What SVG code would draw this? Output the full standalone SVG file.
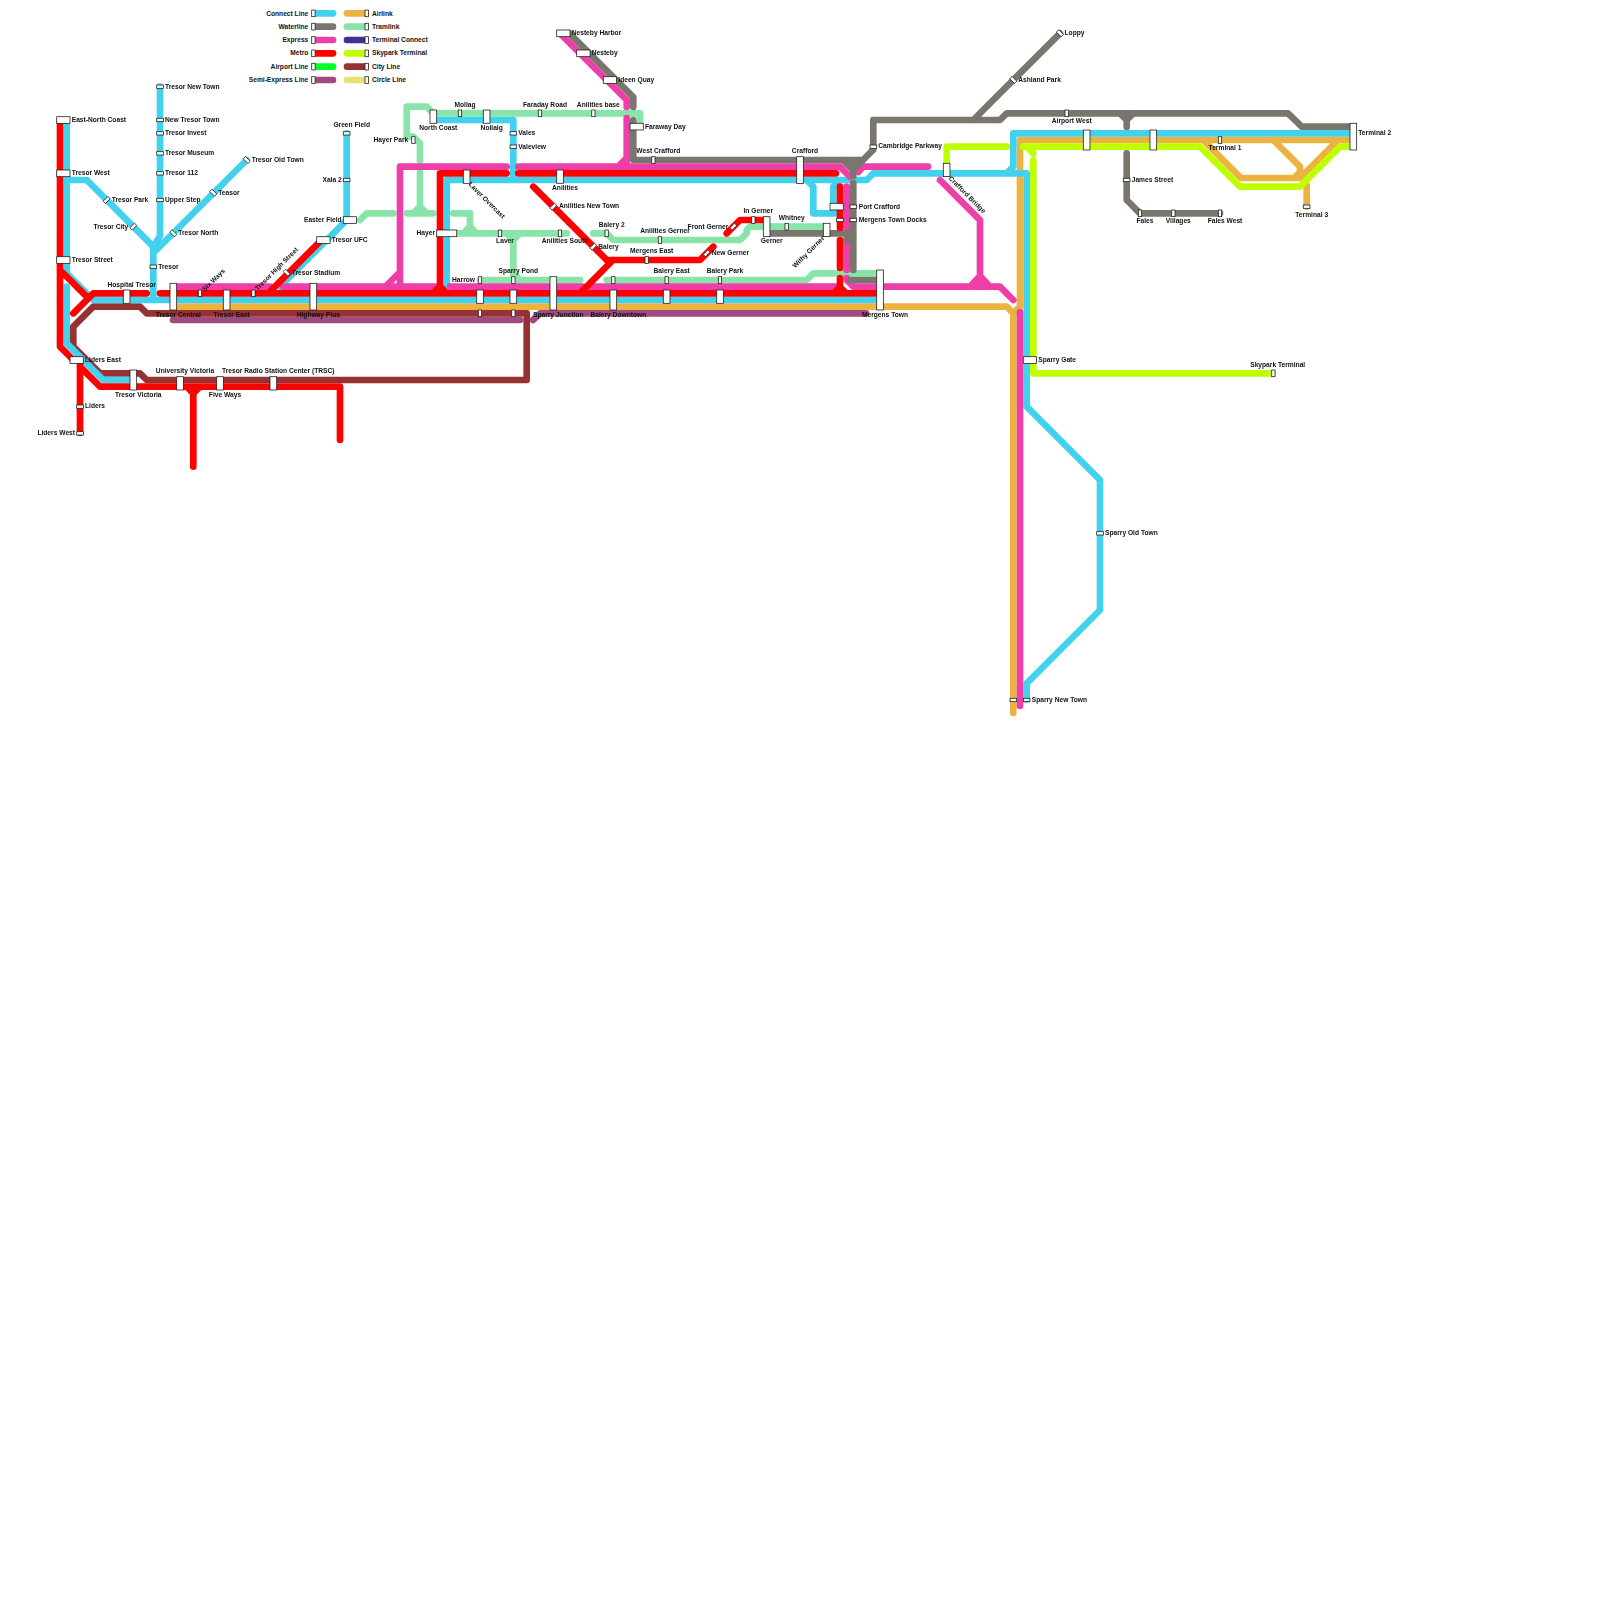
<svg xmlns="http://www.w3.org/2000/svg" width="1600" height="1600" viewBox="0 0 1600 1600">
<style>
text{font:bold 6.67px "Liberation Sans",Arial,sans-serif;fill:#111;dominant-baseline:central}
.e{text-anchor:end}.m{text-anchor:middle}
path{fill:none;stroke-width:6.67;stroke-linecap:round;stroke-linejoin:round}
rect{fill:#fff;stroke:#222;stroke-width:.8}
#stations,#legend{opacity:.999}
.cy{stroke:#43d2ee}.gr{stroke:#7a766e}.mg{stroke:#ee3ea8}.rd{stroke:#f00}.ag{stroke:#00ff2a}.pu{stroke:#a14a80}
.or{stroke:#edb340}.mi{stroke:#88e4a8}.nv{stroke:#3b3291}.li{stroke:#bfff00}.br{stroke:#963232}.ye{stroke:#e5e174}
</style>
<rect width="1600" height="1600" style="fill:#fff;stroke:none"/>
<g id="legend">
<path class="cy" d="M315 13.3H333"/><path class="gr" d="M315 26.7H333"/><path class="mg" d="M315 40H333"/><path class="rd" d="M315 53.3H333"/><path class="ag" d="M315 66.7H333"/><path class="pu" d="M315 80H333"/>
<path class="or" d="M347 13.3H365"/><path class="mi" d="M347 26.7H365"/><path class="nv" d="M347 40H365"/><path class="li" d="M347 53.3H365"/><path class="br" d="M347 66.7H365"/><path class="ye" d="M347 80H365"/>
<rect x="311.7" y="10" width="3.4" height="6.67"/><rect x="311.7" y="23.3" width="3.4" height="6.67"/><rect x="311.7" y="36.7" width="3.4" height="6.67"/><rect x="311.7" y="50" width="3.4" height="6.67"/><rect x="311.7" y="63.3" width="3.4" height="6.67"/><rect x="311.7" y="76.7" width="3.4" height="6.67"/>
<rect x="365" y="10" width="3.4" height="6.67"/><rect x="365" y="23.3" width="3.4" height="6.67"/><rect x="365" y="36.7" width="3.4" height="6.67"/><rect x="365" y="50" width="3.4" height="6.67"/><rect x="365" y="63.3" width="3.4" height="6.67"/><rect x="365" y="76.7" width="3.4" height="6.67"/>
<text class="e" x="308.3" y="13">Connect Line</text><text class="e" x="308.3" y="26">Waterline</text><text class="e" x="308.3" y="39.3">Express</text><text class="e" x="308.3" y="52.7">Metro</text><text class="e" x="308.3" y="66">Airport Line</text><text class="e" x="308.3" y="79.3">Semi-Express Line</text>
<text x="372" y="13">Airlink</text><text x="372" y="26">Tramlink</text><text x="372" y="39.3">Terminal Connect</text><text x="372" y="52.7">Skypark Terminal</text><text x="372" y="66">City Line</text><text x="372" y="79.3">Circle Line</text>
</g>
<g id="connectors">
<path class="mi" d="M420 161V143.3L413.3 136.7H406.7V106.7H426.7L433.3 113.3H640V126.7M420 172V213.3M407 213.3H433M413.3 213.3L420 206.7L426.7 213.3M360 220L366.7 213.3H393.3M453.3 213.3H470V226.7L476.7 233.3M456 233.3H566.7M463.3 233.3L470 226.7M513.3 233.3V280M506.7 233.3L513.3 240L520 233.3M480 280H580M513.3 273.3L520 280M606.7 280H806.7L813.3 273.3H880M593.3 233.3H606.7L613.3 240H740L746.7 233.3V230L750 226.7H826.7"/>
<path class="pu" d="M173 320H520M533 320L540 313.3H866"/>
<path class="or" d="M173 306.7H1006.7L1013.3 313.3V713M1013.3 313.3L1020 306.7V178M1020 170V140H1353M1203.3 140L1241 178H1300L1338 140M1273.3 140L1300 166.7V172L1294 178M1306.7 185V206.7"/>
<path class="br" d="M146.7 313.3H526.7V380H146.7L140 373.3H100L73.3 346.7V326.7L93.3 306.7H140Z"/>
<path class="li" d="M1023 146.7H1200L1240 186.7H1300L1340 146.7H1353M1033.3 160V373.3H1273M1033.3 153.3L1026.7 146.7M946.7 170V146.7H1007"/>
<path class="cy" d="M66.7 120V273.3L93.3 300H880M66.7 286.7V343.3L103.3 380H133M66.7 180H86.7L153.3 246.7V300M160 86.7V236L153.3 246.7M246.7 160L153.3 253M346.7 133.3V220L280 286.7M446.7 286.7V180H866.7L873.3 173.3H1026.7V406.7L1100 480V610L1026.7 683.3V700M433.3 120H513.3V180M1006.7 173.3L1013.3 166.7V133.3H1353M806.7 180L813.3 186.7V213.3H836M840 180L833.3 186.7V206"/>
<path class="mg" d="M173 286.7H270M283.3 286.7H436M450 286.7H583M590 286.7H836M386 286L400 272M400 286.7V166.7H506.7M518.3 166.7H840L850 176.7M846.7 186.7V270M846.7 278V280L853.3 286.7H1000L1013.3 300M560 33.3L626.7 100V107M626.7 118V166M626.7 158L618 166.7M858.3 172L863 166.7H928M940 180L978.3 218.3L980 220V286M970 286.7L980 276L990 286.7M1020 312V706"/>
<path class="gr" d="M569.4 33.3L633.3 97.2V107M633.3 120V160H863L873.3 149.7V120H1000L1006.7 113.3H1288L1301.7 126.7H1350M973.3 120L1060 33.3M1120 113.3L1126.7 120L1133.3 113.3M1126.7 113.3V127M1126.7 153.3V200L1140 213.3H1220M843 160L853.3 170L863 160M853.3 160V176M853.3 183V270M766.7 233.3H853.3M846.7 240L853.3 233.3M850 280H880"/>
<path class="rd" d="M60 120V346.7L73.3 360H80V433M80 366.7L100 386.7H340V440M186.7 386.7L193.3 393.3L200 386.7M193.3 386.7V466.7M60 270L86.7 296.7M73.3 313.3L93.3 293.3H146.7M160 293.3H880M321.5 240L268.2 293.3M440 173.3V293.3M434 293L440 286L446 293M440 173.3H506.7M518.3 173.3H836M533.3 186.7L606.7 260M606.7 260H700L713.3 246.7M613 260L580 293.3M726.7 233.3L740 220H766.7M840 186.7V228M840 240V268M840 278V293.3M834 293L840 287L846 293"/>
</g>
<g id="stations">
<g id="s1"><rect x="56.7" y="116.7" width="13.3" height="6.67"/><text x="71.7" y="119.5">East-North Coast</text></g>
<g id="s2"><rect x="56.7" y="170" width="13.3" height="6.67"/><text x="71.7" y="172.7">Tresor West</text></g>
<g id="s3"><rect x="56.7" y="256.7" width="13.3" height="6.67"/><text x="71.7" y="259.5">Tresor Street</text></g>
<g id="s4"><rect x="156.7" y="85" width="6.67" height="3.33"/><text x="165" y="86">Tresor New Town</text></g>
<g id="s5"><rect x="156.7" y="118.3" width="6.67" height="3.33"/><text x="165" y="119.5">New Tresor Town</text></g>
<g id="s6"><rect x="156.7" y="131.7" width="6.67" height="3.33"/><text x="165" y="132.7">Tresor Invest</text></g>
<g id="s7"><rect x="156.7" y="151.7" width="6.67" height="3.33"/><text x="165" y="152.7">Tresor Museum</text></g>
<g id="s8"><rect x="156.7" y="171.7" width="6.67" height="3.33"/><text x="165" y="172.7">Tresor 112</text></g>
<g id="s9"><rect x="156.7" y="198.3" width="6.67" height="3.33"/><text x="165" y="199.5">Upper Step</text></g>
<g id="s10"><rect x="150" y="265" width="6.67" height="3.33"/><text x="158.3" y="266">Tresor</text></g>
<g id="s11"><rect x="-3.33" y="-1.67" width="6.67" height="3.33" transform="translate(246.7 160) rotate(45)"/><text x="251.7" y="159.3">Tresor Old Town</text></g>
<g id="s12"><rect x="-3.33" y="-1.67" width="6.67" height="3.33" transform="translate(213.3 192.7) rotate(45)"/><text x="218.3" y="192.7">Teasor</text></g>
<g id="s13"><rect x="-3.33" y="-1.67" width="6.67" height="3.33" transform="translate(173.3 233.3) rotate(45)"/><text x="178.3" y="232.7">Tresor North</text></g>
<g id="s14"><rect x="-3.33" y="-1.67" width="6.67" height="3.33" transform="translate(106.7 200) rotate(-45)"/><text x="111.7" y="199.5">Tresor Park</text></g>
<g id="s15"><rect x="-3.33" y="-1.67" width="6.67" height="3.33" transform="translate(133.3 226.7) rotate(-45)"/><text class="e" x="128.3" y="226">Tresor City</text></g>
<g id="s16"><rect x="-3.33" y="-1.67" width="6.67" height="3.33" transform="translate(286.7 272.7) rotate(45)"/><text x="291.7" y="272.7">Tresor Stadium</text></g>
<g id="s17"><rect x="123.3" y="290" width="6.67" height="13.3"/><text class="m" x="131.7" y="284">Hospital Tresor</text></g>
<g id="s18"><rect x="170" y="283.3" width="6.67" height="26.7"/><text class="m" x="178.3" y="314">Tresor Central</text></g>
<g id="s19"><rect x="198.3" y="290" width="3.33" height="6.67"/><text transform="translate(203 290) rotate(-45)" x="0" y="0">Six Ways</text></g>
<g id="s20"><rect x="223.3" y="290" width="6.67" height="20"/><text class="m" x="231.7" y="314">Tresor East</text></g>
<g id="s21"><rect x="251.7" y="290" width="3.33" height="6.67"/><text transform="translate(256 289) rotate(-45)" x="0" y="0">Tresor High Street</text></g>
<g id="s22"><rect x="310" y="283.3" width="6.67" height="26.7"/><text class="m" x="318.3" y="314">Highway Plus</text></g>
<g id="s23"><rect x="70" y="356.7" width="13.3" height="6.67"/><text x="85" y="359.3">Liders East</text></g>
<g id="s24"><rect x="76.7" y="405" width="6.67" height="3.33"/><text x="85" y="405.7">Liders</text></g>
<g id="s25"><rect x="76.7" y="431.7" width="6.67" height="3.33"/><text class="e" x="75" y="432.7">Liders West</text></g>
<g id="s26"><rect x="130" y="370" width="6.67" height="20"/><text class="m" x="138.3" y="394">Tresor Victoria</text></g>
<g id="s27"><rect x="176.7" y="376.7" width="6.67" height="13.3"/><text class="m" x="185" y="370.7">University Victoria</text></g>
<g id="s28"><rect x="216.7" y="376.7" width="6.67" height="13.3"/><text class="m" x="225" y="394">Five Ways</text></g>
<g id="s29"><rect x="270" y="376.7" width="6.67" height="13.3"/><text class="m" x="278.3" y="370.7">Tresor Radio Station Center (TRSC)</text></g>
<g id="s30"><rect x="316.7" y="236.7" width="13.3" height="6.67"/><text x="331.7" y="239.3">Tresor UFC</text></g>
<g id="s31"><rect x="343.3" y="216.7" width="13.3" height="6.67"/><text class="e" x="341.7" y="219.3">Easter Field</text></g>
<g id="s32"><rect x="343.3" y="131.7" width="6.67" height="3.33"/><text class="m" x="351.7" y="124">Green Field</text></g>
<g id="s33"><rect x="343.3" y="178.3" width="6.67" height="3.33"/><text class="e" x="341.7" y="179.3">Xala 2</text></g>
<g id="s34"><rect x="411.7" y="136.7" width="3.33" height="6.67"/><text class="e" x="408.3" y="139.3">Hayer Park</text></g>
<g id="s35"><rect x="430" y="110" width="6.67" height="13.3"/><text class="m" x="438.3" y="127.3">North Coast</text></g>
<g id="s36"><rect x="458.3" y="110" width="3.33" height="6.67"/><text class="m" x="465" y="104">Mollag</text></g>
<g id="s37"><rect x="483.3" y="110" width="6.67" height="13.3"/><text class="m" x="491.7" y="127.3">Nollaig</text></g>
<g id="s38"><rect x="538.3" y="110" width="3.33" height="6.67"/><text class="m" x="545" y="104">Faraday Road</text></g>
<g id="s39"><rect x="591.7" y="110" width="3.33" height="6.67"/><text class="m" x="598.3" y="104">Anilities base</text></g>
<g id="s40"><rect x="510" y="131.7" width="6.67" height="3.33"/><text x="518.3" y="132.7">Vales</text></g>
<g id="s41"><rect x="510" y="145" width="6.67" height="3.33"/><text x="518.3" y="146">Valeview</text></g>
<g id="s42"><rect x="630" y="123.3" width="13.3" height="6.67"/><text x="645" y="126">Faraway Day</text></g>
<g id="s43"><rect x="651.7" y="156.7" width="3.33" height="6.67"/><text class="m" x="658.3" y="150.7">West Crafford</text></g>
<g id="s44"><rect x="463.3" y="170" width="6.67" height="13.3"/><text transform="translate(470 183) rotate(45)" x="0" y="0">Laver Overcast</text></g>
<g id="s45"><rect x="556.7" y="170" width="6.67" height="13.3"/><text class="m" x="565" y="187.3">Anilities</text></g>
<g id="s46"><rect x="-3.33" y="-1.67" width="6.67" height="3.33" transform="translate(553.3 206.7) rotate(-45)"/><text x="559" y="205.7">Anilities New Town</text></g>
<g id="s47"><rect x="436.7" y="230" width="20" height="6.67"/><text class="e" x="435" y="232.3">Hayer</text></g>
<g id="s48"><rect x="498.3" y="230" width="3.33" height="6.67"/><text class="m" x="505" y="240.7">Laver</text></g>
<g id="s49"><rect x="558.3" y="230" width="3.33" height="6.67"/><text class="m" x="565" y="240.7">Anilities South</text></g>
<g id="s50"><rect x="605" y="230" width="3.33" height="6.67"/><text class="m" x="611.7" y="224.3">Balery 2</text></g>
<g id="s51"><rect x="658.3" y="236.7" width="3.33" height="6.67"/><text class="m" x="665" y="230.7">Anilities Gerner</text></g>
<g id="s52"><rect x="-3.33" y="-1.67" width="6.67" height="3.33" transform="translate(593.3 246.7) rotate(-45)"/><text x="598.3" y="246">Balery</text></g>
<g id="s53"><rect x="645" y="256.7" width="3.33" height="6.67"/><text class="m" x="651.7" y="250.7">Mergens East</text></g>
<g id="s54"><rect x="478.3" y="276.7" width="3.33" height="6.67"/><rect x="476.7" y="290" width="6.67" height="13.3"/><rect x="478.3" y="310" width="3.33" height="6.67"/><text class="e" x="475" y="279.3">Harrow</text></g>
<g id="s55"><rect x="511.7" y="276.7" width="3.33" height="6.67"/><rect x="510" y="290" width="6.67" height="13.3"/><rect x="511.7" y="310" width="3.33" height="6.67"/><text class="m" x="518.3" y="270.7">Sparry Pond</text></g>
<g id="s56"><rect x="550" y="276.7" width="6.67" height="33.3"/><text class="m" x="558.3" y="314">Sparry Junction</text></g>
<g id="s57"><rect x="611.7" y="276.7" width="3.33" height="6.67"/><rect x="610" y="290" width="6.67" height="20"/><text class="m" x="618.3" y="314">Balery Downtown</text></g>
<g id="s58"><rect x="665" y="276.7" width="3.33" height="6.67"/><rect x="663.3" y="290" width="6.67" height="13.3"/><text class="m" x="671.7" y="270.7">Balery East</text></g>
<g id="s59"><rect x="718.3" y="276.7" width="3.33" height="6.67"/><rect x="716.7" y="290" width="6.67" height="13.3"/><text class="m" x="725" y="270.7">Balery Park</text></g>
<g id="s60"><rect x="796.7" y="156.7" width="6.67" height="26.7"/><text class="m" x="805" y="150.7">Crafford</text></g>
<g id="s61"><rect x="-3.33" y="-1.67" width="6.67" height="3.33" transform="translate(733.3 226.7) rotate(-45)"/><text class="e" x="728.3" y="226">Front Gerner</text></g>
<g id="s62"><rect x="-3.33" y="-1.67" width="6.67" height="3.33" transform="translate(706.7 253.3) rotate(-45)"/><text x="711.7" y="252.3">New Gerner</text></g>
<g id="s63"><rect x="751.7" y="216.7" width="3.33" height="6.67"/><text class="m" x="758.3" y="210.7">In Gerner</text></g>
<g id="s64"><rect x="763.3" y="216.7" width="6.67" height="20"/><text class="m" x="771.7" y="240.7">Gerner</text></g>
<g id="s65"><rect x="785" y="223.3" width="3.33" height="6.67"/><text class="m" x="791.7" y="217.3">Whitney</text></g>
<g id="s66"><rect x="823.3" y="223.3" width="6.67" height="13.3"/><text class="e" transform="translate(823 237) rotate(-45)" x="0" y="0">Withy Gerner</text></g>
<g id="s67"><rect x="830" y="203.3" width="13.3" height="6.67"/><rect x="850" y="205" width="6.67" height="3.33"/><text x="858.7" y="206">Port Crafford</text></g>
<g id="s68"><rect x="836.7" y="218.3" width="6.67" height="3.33"/><rect x="850" y="218.3" width="6.67" height="3.33"/><text x="858.7" y="219.3">Mergens Town Docks</text></g>
<g id="s69"><rect x="870" y="145" width="6.67" height="3.33"/><text x="878.3" y="145.7">Cambridge Parkway</text></g>
<g id="s70"><rect x="876.7" y="270" width="6.67" height="40"/><text class="m" x="885" y="314">Mergens Town</text></g>
<g id="s71"><rect x="943.3" y="163.3" width="6.67" height="13.3"/><text transform="translate(950 177) rotate(45)" x="0" y="0">Crafford Bridge</text></g>
<g id="s72"><rect x="1065" y="110" width="3.33" height="6.67"/><text class="m" x="1071.7" y="120.7">Airport West</text></g>
<g id="s73"><rect x="1083.3" y="130" width="6.67" height="20"/></g>
<g id="s74"><rect x="1150" y="130" width="6.67" height="20"/></g>
<g id="s75"><rect x="1218.3" y="136.7" width="3.33" height="6.67"/><text class="m" x="1225" y="147.3">Terminal 1</text></g>
<g id="s76"><rect x="1350" y="123.3" width="6.67" height="26.7"/><text x="1358.3" y="132.7">Terminal 2</text></g>
<g id="s77"><rect x="1303.3" y="205" width="6.67" height="3.33"/><text class="m" x="1311.7" y="214">Terminal 3</text></g>
<g id="s78"><rect x="1123.3" y="178.3" width="6.67" height="3.33"/><text x="1131.7" y="179.3">James Street</text></g>
<g id="s79"><rect x="1138.3" y="210" width="3.33" height="6.67"/><text class="m" x="1145" y="220.7">Fales</text></g>
<g id="s80"><rect x="1171.7" y="210" width="3.33" height="6.67"/><text class="m" x="1178.3" y="220.7">Villages</text></g>
<g id="s81"><rect x="1218.3" y="210" width="3.33" height="6.67"/><text class="m" x="1225" y="220.7">Fales West</text></g>
<g id="s82"><rect x="-3.33" y="-1.67" width="6.67" height="3.33" transform="translate(1060 33.3) rotate(45)"/><text x="1064.5" y="32.7">Loppy</text></g>
<g id="s83"><rect x="-3.33" y="-1.67" width="6.67" height="3.33" transform="translate(1013.3 80) rotate(45)"/><text x="1018.3" y="79.3">Ashland Park</text></g>
<g id="s84"><rect x="1023.3" y="356.7" width="13.3" height="6.67"/><text x="1038.3" y="359.3">Sparry Gate</text></g>
<g id="s85"><rect x="1271.7" y="370" width="3.33" height="6.67"/><text class="m" x="1277.7" y="364.3">Skypark Terminal</text></g>
<g id="s86"><rect x="1096.7" y="531.7" width="6.67" height="3.33"/><text x="1105" y="532.7">Sparry Old Town</text></g>
<g id="s87"><rect x="1023.3" y="698.3" width="6.67" height="3.33"/><rect x="1010" y="698.3" width="6.67" height="3.33"/><text x="1031.7" y="699.5">Sparry New Town</text></g>
<g id="s88"><rect x="556.7" y="30" width="13.3" height="6.67"/><text x="571.7" y="32.7">Nesteby Harbor</text></g>
<g id="s89"><rect x="576.7" y="50" width="13.3" height="6.67"/><text x="591.7" y="52.7">Nesteby</text></g>
<g id="s90"><rect x="603.3" y="76.7" width="13.3" height="6.67"/><text x="618.3" y="79.3">Ideen Quay</text></g>
</g>
</svg>
